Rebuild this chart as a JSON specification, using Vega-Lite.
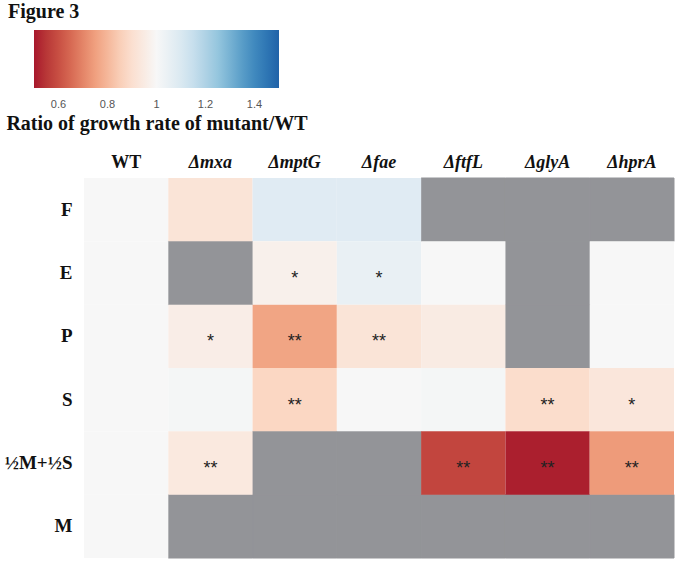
{
  "$schema": "https://vega.github.io/schema/vega-lite/v6.json",
  "width": 590,
  "height": 380,
  "autosize": {"type": "none"},
  "padding": {"left": 84, "top": 178, "right": 3, "bottom": 6},
  "background": "white",
  "title": {
    "text": "Figure 3",
    "anchor": "start",
    "frame": "group",
    "font": "Liberation Serif",
    "fontSize": 20,
    "fontWeight": "bold",
    "color": "#111111",
    "dx": -76,
    "dy": 2,
    "offset": 10
  },
  "config": {"view": {"stroke": null}},
  "data": {
    "values": [
      {"medium": "F", "strain": "WT", "ratio": 1.0, "na": false, "sig": ""},
      {"medium": "F", "strain": "Δmxa", "ratio": 0.92, "na": false, "sig": ""},
      {"medium": "F", "strain": "ΔmptG", "ratio": 1.08, "na": false, "sig": ""},
      {"medium": "F", "strain": "Δfae", "ratio": 1.08, "na": false, "sig": ""},
      {"medium": "F", "strain": "ΔftfL", "ratio": null, "na": true, "sig": ""},
      {"medium": "F", "strain": "ΔglyA", "ratio": null, "na": true, "sig": ""},
      {"medium": "F", "strain": "ΔhprA", "ratio": null, "na": true, "sig": ""},
      {"medium": "E", "strain": "WT", "ratio": 1.0, "na": false, "sig": ""},
      {"medium": "E", "strain": "Δmxa", "ratio": null, "na": true, "sig": ""},
      {"medium": "E", "strain": "ΔmptG", "ratio": 0.97, "na": false, "sig": "*"},
      {"medium": "E", "strain": "Δfae", "ratio": 1.05, "na": false, "sig": "*"},
      {"medium": "E", "strain": "ΔftfL", "ratio": 1.0, "na": false, "sig": ""},
      {"medium": "E", "strain": "ΔglyA", "ratio": null, "na": true, "sig": ""},
      {"medium": "E", "strain": "ΔhprA", "ratio": 1.0, "na": false, "sig": ""},
      {"medium": "P", "strain": "WT", "ratio": 1.0, "na": false, "sig": ""},
      {"medium": "P", "strain": "Δmxa", "ratio": 0.96, "na": false, "sig": "*"},
      {"medium": "P", "strain": "ΔmptG", "ratio": 0.76, "na": false, "sig": "**"},
      {"medium": "P", "strain": "Δfae", "ratio": 0.92, "na": false, "sig": "**"},
      {"medium": "P", "strain": "ΔftfL", "ratio": 0.95, "na": false, "sig": ""},
      {"medium": "P", "strain": "ΔglyA", "ratio": null, "na": true, "sig": ""},
      {"medium": "P", "strain": "ΔhprA", "ratio": 1.0, "na": false, "sig": ""},
      {"medium": "S", "strain": "WT", "ratio": 1.0, "na": false, "sig": ""},
      {"medium": "S", "strain": "Δmxa", "ratio": 1.01, "na": false, "sig": ""},
      {"medium": "S", "strain": "ΔmptG", "ratio": 0.87, "na": false, "sig": "**"},
      {"medium": "S", "strain": "Δfae", "ratio": 1.0, "na": false, "sig": ""},
      {"medium": "S", "strain": "ΔftfL", "ratio": 1.01, "na": false, "sig": ""},
      {"medium": "S", "strain": "ΔglyA", "ratio": 0.89, "na": false, "sig": "**"},
      {"medium": "S", "strain": "ΔhprA", "ratio": 0.93, "na": false, "sig": "*"},
      {"medium": "½M+½S", "strain": "WT", "ratio": 1.0, "na": false, "sig": ""},
      {"medium": "½M+½S", "strain": "Δmxa", "ratio": 0.94, "na": false, "sig": "**"},
      {"medium": "½M+½S", "strain": "ΔmptG", "ratio": null, "na": true, "sig": ""},
      {"medium": "½M+½S", "strain": "Δfae", "ratio": null, "na": true, "sig": ""},
      {"medium": "½M+½S", "strain": "ΔftfL", "ratio": 0.58, "na": false, "sig": "**"},
      {"medium": "½M+½S", "strain": "ΔglyA", "ratio": 0.51, "na": false, "sig": "**"},
      {"medium": "½M+½S", "strain": "ΔhprA", "ratio": 0.74, "na": false, "sig": "**"},
      {"medium": "M", "strain": "WT", "ratio": 1.0, "na": false, "sig": ""},
      {"medium": "M", "strain": "Δmxa", "ratio": null, "na": true, "sig": ""},
      {"medium": "M", "strain": "ΔmptG", "ratio": null, "na": true, "sig": ""},
      {"medium": "M", "strain": "Δfae", "ratio": null, "na": true, "sig": ""},
      {"medium": "M", "strain": "ΔftfL", "ratio": null, "na": true, "sig": ""},
      {"medium": "M", "strain": "ΔglyA", "ratio": null, "na": true, "sig": ""},
      {"medium": "M", "strain": "ΔhprA", "ratio": null, "na": true, "sig": ""}
    ]
  },
  "encoding": {
    "x": {
      "field": "strain",
      "type": "nominal",
      "sort": ["WT", "Δmxa", "ΔmptG", "Δfae", "ΔftfL", "ΔglyA", "ΔhprA"],
      "scale": {"paddingInner": 0, "paddingOuter": 0},
      "axis": {
        "orient": "top",
        "title": null,
        "domain": false,
        "ticks": false,
        "labelAngle": 0,
        "labelFont": "Liberation Serif",
        "labelFontSize": 18,
        "labelFontWeight": "bold",
        "labelFontStyle": {"condition": {"test": "datum.value === 'WT'", "value": "normal"}, "value": "italic"},
        "labelColor": "#111111",
        "labelPadding": 7
      }
    },
    "y": {
      "field": "medium",
      "type": "nominal",
      "sort": ["F", "E", "P", "S", "½M+½S", "M"],
      "scale": {"paddingInner": 0, "paddingOuter": 0},
      "axis": {
        "title": null,
        "domain": false,
        "ticks": false,
        "labelFont": "Liberation Serif",
        "labelFontSize": 19,
        "labelFontWeight": "bold",
        "labelColor": "#111111",
        "labelPadding": 12
      }
    }
  },
  "layer": [
    {
      "transform": [{"filter": "datum.na"}],
      "mark": {"type": "rect", "color": "#939498", "stroke": "#939498", "strokeWidth": 1}
    },
    {
      "transform": [{"filter": "!datum.na"}],
      "mark": {"type": "rect"},
      "encoding": {
        "color": {
          "field": "ratio",
          "type": "quantitative",
          "scale": {
            "domain": [0.5, 0.625, 0.75, 0.875, 1, 1.125, 1.25, 1.375, 1.5],
            "range": ["#a8182c", "#d05a4a", "#f0a07f", "#fbd9c6", "#f7f7f7", "#d3e5f0", "#95c6de", "#4a93c3", "#2062a8"],
            "clamp": true
          },
          "legend": {
            "orient": "none",
            "legendX": -78,
            "legendY": -148,
            "direction": "horizontal",
            "gradientLength": 245,
            "gradientThickness": 58,
            "gradientStrokeWidth": 0,
            "titleOrient": "bottom",
            "title": "Ratio of growth rate of mutant/WT",
            "titleFont": "Liberation Serif",
            "titleFontSize": 20,
            "titleFontWeight": "bold",
            "titleColor": "#111111",
            "titleAnchor": "middle",
            "titleLimit": 500,
            "titlePadding": 4,
            "labelFont": "Liberation Sans",
            "labelFontSize": 11,
            "labelColor": "#555555",
            "labelOffset": 11,
            "values": [0.6, 0.8, 1, 1.2, 1.4],
            "format": "~g",
            "padding": 0
          }
        }
      }
    },
    {
      "mark": {"type": "text", "font": "Liberation Sans", "fontSize": 18, "color": "#222222", "baseline": "middle", "dy": 6},
      "encoding": {"text": {"field": "sig"}}
    }
  ]
}
